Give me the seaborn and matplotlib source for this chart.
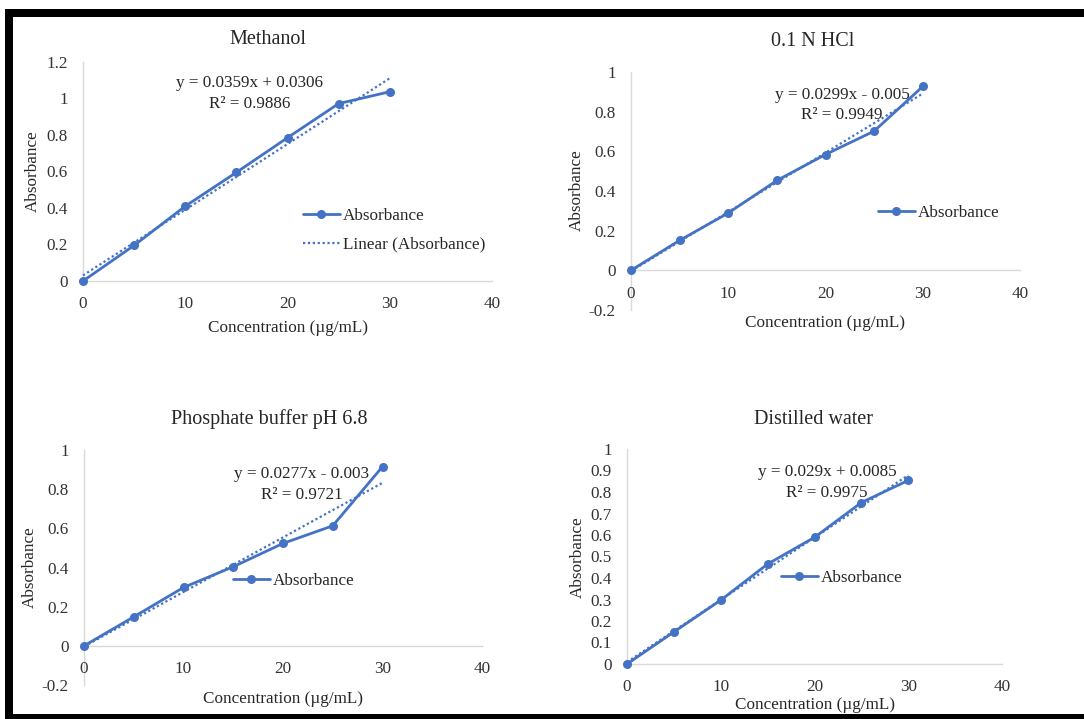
import matplotlib
matplotlib.use('Agg')
import matplotlib.pyplot as plt
import seaborn as sns
import pandas as pd
from matplotlib.patches import Rectangle
from matplotlib.ticker import FuncFormatter, MultipleLocator

# values
conc = [0, 5, 10, 15, 20, 25, 30]
methanol = [0, 0.195, 0.41, 0.595, 0.785, 0.972, 1.037]
hcl = [0, 0.151, 0.289, 0.453, 0.584, 0.702, 0.927]
phosphate = [0, 0.148, 0.298, 0.404, 0.523, 0.613, 0.915]
water = [0, 0.149, 0.297, 0.465, 0.589, 0.751, 0.854]

titles = ['Methanol', '0.1 N HCl', 'Phosphate buffer pH 6.8', 'Distilled water']
equations = ['y = 0.0359x + 0.0306', 'y = 0.0299x - 0.005',
             'y = 0.0277x - 0.003', 'y = 0.029x + 0.0085']
r_squared = ['R² = 0.9886', 'R² = 0.9949', 'R² = 0.9721', 'R² = 0.9975']

sns.set_style('white')
plt.rcParams['font.family'] = ['Liberation Serif', 'DejaVu Serif']
plt.rcParams['text.color'] = '#262626'

W, H = 1084, 719
BLUE = '#4472C4'
GREY = '#D9D9D9'
FS = 12.3

fig = plt.figure(figsize=(W / 100, H / 100), dpi=100)


def fx(px):
    return px / W


def fy(py):
    return 1 - py / H


def make_axes(left, right, top, bottom):
    return fig.add_axes([fx(left), fy(bottom), fx(right - left), (bottom - top) / H])


# panel layout in pixels: plot box, y range, y step, title/label/equation/legend spots
panels = [
    dict(y=methanol, box=(83, 492, 62, 281), ylim=(0, 1.2), step=0.2,
         title=(268, 40), xlab=(288, 328), ylab=(33, 171), eq=(250, 83, 104),
         leg=(303, 215), trend_legend=True),
    dict(y=hcl, box=(631, 1020, 72, 310), ylim=(-0.2, 1.0), step=0.2,
         title=(813, 42), xlab=(825, 323), ylab=(577, 190), eq=(842, 95, 115),
         leg=(878, 212), trend_legend=False),
    dict(y=phosphate, box=(84, 482, 450, 685), ylim=(-0.2, 1.0), step=0.2,
         title=(269, 419), xlab=(283, 699), ylab=(30, 567), eq=(302, 474, 495),
         leg=(233, 580), trend_legend=False),
    dict(y=water, box=(627, 1002, 449, 664), ylim=(0, 1.0), step=0.1,
         title=(814, 419), xlab=(815, 705), ylab=(578, 557), eq=(827, 472, 493),
         leg=(781, 577), trend_legend=False),
]

for i, p in enumerate(panels):
    ax = make_axes(*p['box'])
    df = pd.DataFrame({'conc': conc, 'abs': p['y']})

    sns.regplot(data=df, x='conc', y='abs', ax=ax, scatter=False, ci=None,
                truncate=True, color=BLUE, label='Linear (Absorbance)',
                line_kws=dict(ls=(0, (1, 1.2)), lw=1.6, clip_on=False))
    sns.lineplot(data=df, x='conc', y='abs', ax=ax, color=BLUE, lw=2.0,
                 marker='o', markersize=6.5, markeredgewidth=0,
                 label='Absorbance', clip_on=False)

    ax.set_xlim(0, 40)
    ax.set_ylim(*p['ylim'])
    ax.xaxis.set_major_locator(MultipleLocator(10))
    ax.yaxis.set_major_locator(MultipleLocator(p['step']))
    ax.yaxis.set_major_formatter(FuncFormatter(lambda v, pos: f'{round(v, 2):g}'))
    ax.tick_params(length=0, labelsize=FS, colors='#333333')
    ax.tick_params(axis='y', pad=11)
    ax.tick_params(axis='x', pad=11)
    ax.set_xlabel('')
    ax.set_ylabel('')

    for side in ['top', 'right']:
        ax.spines[side].set_visible(False)
    ax.spines['bottom'].set_position(('data', 0))
    ax.spines['left'].set_position(('data', 0))
    for side in ['bottom', 'left']:
        ax.spines[side].set_color(GREY)
        ax.spines[side].set_linewidth(1.0)
        ax.spines[side].set_zorder(0)

    handles, labels = ax.get_legend_handles_labels()
    order = [labels.index('Absorbance')]
    if p['trend_legend']:
        order.append(labels.index('Linear (Absorbance)'))
    ax.legend([handles[k] for k in order], [labels[k] for k in order],
              loc='upper left', bbox_to_anchor=(fx(p['leg'][0]), fy(p['leg'][1] - 7)),
              bbox_transform=fig.transFigure, frameon=False, fontsize=FS,
              borderpad=0, borderaxespad=0, handlelength=2.15, handletextpad=0.2,
              labelspacing=0.75)

    fig.text(fx(p['title'][0]), fy(p['title'][1]), titles[i], ha='center',
             va='center', fontsize=14.5)
    fig.text(fx(p['xlab'][0]), fy(p['xlab'][1]), 'Concentration (µg/mL)',
             ha='center', va='center', fontsize=FS)
    fig.text(fx(p['ylab'][0]), fy(p['ylab'][1]), 'Absorbance', ha='center',
             va='center', rotation=90, fontsize=FS)
    ex, ey1, ey2 = p['eq']
    fig.text(fx(ex), fy(ey1), equations[i], ha='center', va='center', fontsize=FS)
    fig.text(fx(ex), fy(ey2), r_squared[i], ha='center', va='center', fontsize=FS)

# black frame around the figure
for (x0, y0, x1, y1) in [(5, 9, 1084, 17), (5, 9, 13, 719), (5, 714, 1084, 719)]:
    fig.add_artist(Rectangle((fx(x0), fy(y1)), fx(x1 - x0), (y1 - y0) / H,
                             transform=fig.transFigure, color='black', lw=0))

fig.savefig('out.png', dpi=100)
